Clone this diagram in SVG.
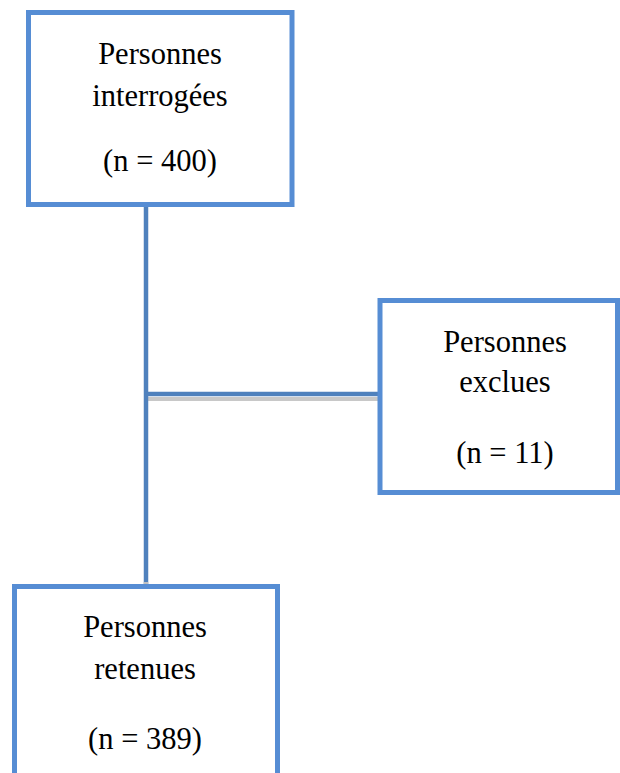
<svg xmlns="http://www.w3.org/2000/svg" width="620" height="773" viewBox="0 0 620 773">
<style>
.box{fill:#ffffff;stroke:#568dd4;stroke-width:5}
.t{font-family:"Liberation Serif","Times New Roman",serif;font-size:30.5px;fill:#000;text-anchor:middle}
.ln{stroke:#4f81bd;stroke-width:4.5;fill:none}
.sh{stroke:#c8c8c8;stroke-width:4;fill:none}
</style>
<rect width="620" height="773" fill="#ffffff"/>
<g id="connectors">
<line class="sh" x1="148" y1="399" x2="378" y2="399"/>
<line class="ln" x1="146" y1="206" x2="146" y2="584"/>
<line class="ln" x1="146" y1="394" x2="378" y2="394"/>
<line x1="146" y1="582" x2="146" y2="592" stroke="#c0c0c0" stroke-width="4.5"/>
</g>
<g id="node1">
<rect class="box" x="28.5" y="12.5" width="263.5" height="192"/>
<text class="t" x="160" y="64">Personnes</text>
<text class="t" x="160" y="106">interrogées</text>
<text class="t" x="160" y="171">(n = 400)</text>
</g>
<g id="node2">
<rect class="box" x="380" y="300.5" width="237.5" height="192"/>
<text class="t" x="505" y="352">Personnes</text>
<text class="t" x="505" y="392">exclues</text>
<text class="t" x="505" y="463">(n = 11)</text>
</g>
<g id="node3">
<rect class="box" x="14.5" y="586.5" width="263" height="200"/>
<text class="t" x="145" y="637">Personnes</text>
<text class="t" x="145" y="679">retenues</text>
<text class="t" x="145" y="749">(n = 389)</text>
</g>
</svg>
